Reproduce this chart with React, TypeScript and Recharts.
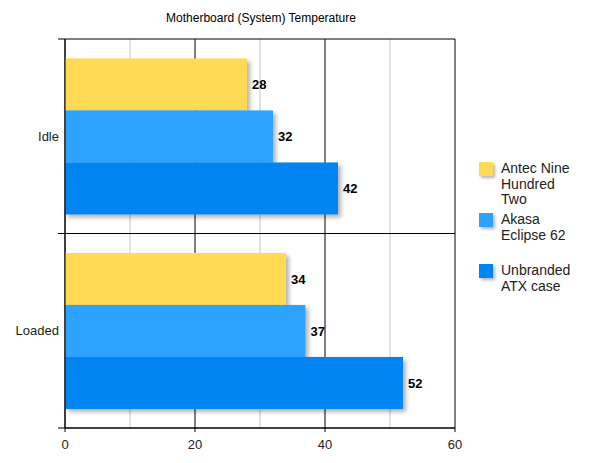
import React from 'react';
import { BarChart, Bar, XAxis, YAxis, CartesianGrid, Legend, LabelList } from 'recharts';

const categories = ['Idle', 'Loaded'];
const antecValues = [28, 34];
const akasaValues = [32, 37];
const unbrandedValues = [42, 52];
const seriesNames = ['Antec Nine Hundred Two', 'Akasa Eclipse 62', 'Unbranded ATX case'];
const seriesColors = ['#FFDA55', '#2DA2FF', '#0084F1'];
const xTicks = [0, 20, 40, 60];
const minorTicks = [10, 30, 50];
const title = 'Motherboard (System) Temperature';

const data = categories.map((c, i) => ({
  cat: c,
  antec: antecValues[i],
  akasa: akasaValues[i],
  unbranded: unbrandedValues[i],
}));

const FONT = '"Liberation Sans", Arial, Helvetica, sans-serif';

const ShadowBar = (props: any) => {
  const { x, y, width, height, fill } = props;
  return (
    <g>
      <defs>
        <filter id="barShadow" x="-20%" y="-20%" width="150%" height="150%">
          <feDropShadow dx="3" dy="3" stdDeviation="2" floodColor="#000" floodOpacity="0.3" />
        </filter>
      </defs>
      <rect x={x} y={y} width={width} height={height} fill={fill} filter="url(#barShadow)" />
    </g>
  );
};

const CategoryTick = (props: any) => {
  const { x, y, payload, index } = props;
  const half = payload && typeof payload.offset === 'number' ? payload.offset : 0;
  return (
    <g>
      <line x1={x - 7} x2={x} y1={y - half} y2={y - half} stroke="#000" />
      {index === categories.length - 1 && (
        <line x1={x - 7} x2={x} y1={y + half} y2={y + half} stroke="#000" />
      )}
      <text x={x - 6} y={y} dy="0.355em" textAnchor="end" fontSize={13} fill="#222" fontFamily={FONT}>
        {payload.value}
      </text>
    </g>
  );
};

const renderLegend = () => {
  return (
    <div style={{ fontFamily: FONT }}>
      {seriesNames.map((name, i) => (
        <div key={i} style={{ display: 'flex', alignItems: 'flex-start', height: 51 }}>
          <div
            style={{
              width: 14,
              height: 14,
              marginTop: 1,
              marginRight: 8,
              background: seriesColors[i],
              boxShadow: '2px 2px 3px rgba(0,0,0,0.3)',
              flex: 'none',
            }}
          />
          <div style={{ width: 76, fontSize: 14, lineHeight: '15.5px', color: '#222' }}>{name}</div>
        </div>
      ))}
    </div>
  );
};

const labelStyle = { fontWeight: 'bold' as const, fontSize: 13, fill: '#000', fontFamily: FONT };

export default function App() {
  return (
    <div style={{ position: 'absolute', left: 0, top: 0, width: 600, height: 463, background: '#fff' }}>
      <div
        style={{
          position: 'absolute',
          left: 66,
          top: 11,
          width: 390,
          textAlign: 'center',
          fontFamily: FONT,
          fontSize: 12,
          lineHeight: '14px',
          color: '#000',
        }}
      >
        {title}
      </div>
      <BarChart
        width={600}
        height={463}
        data={data}
        layout="vertical"
        margin={{ top: 39, right: 145, bottom: 0, left: 0 }}
        barCategoryGap="10%"
        barGap={0}
      >
        <CartesianGrid stroke="#c4c4c4" horizontal={false} verticalValues={minorTicks} />
        <CartesianGrid
          stroke="#000"
          horizontalCoordinatesGenerator={({ offset }: any) => {
            const n = categories.length;
            const pts: number[] = [];
            for (let i = 0; i <= n; i++) pts.push(offset.top + (i * offset.height) / n);
            return pts;
          }}
        />
        <XAxis
          type="number"
          domain={[0, 60]}
          ticks={xTicks}
          height={35}
          tickSize={4}
          tickMargin={8}
          axisLine={{ stroke: '#000' }}
          tickLine={{ stroke: '#000' }}
          tick={{ fill: '#222', fontSize: 13, fontFamily: FONT }}
        />
        <YAxis
          type="category"
          dataKey="cat"
          width={65}
          tickSize={0}
          tickMargin={0}
          tickLine={false}
          axisLine={{ stroke: '#000' }}
          tick={<CategoryTick />}
        />
        <Bar dataKey="antec" name={seriesNames[0]} fill={seriesColors[0]} shape={ShadowBar} isAnimationActive={false}>
          <LabelList dataKey="antec" position="right" offset={5} style={labelStyle} />
        </Bar>
        <Bar dataKey="akasa" name={seriesNames[1]} fill={seriesColors[1]} shape={ShadowBar} isAnimationActive={false}>
          <LabelList dataKey="akasa" position="right" offset={5} style={labelStyle} />
        </Bar>
        <Bar dataKey="unbranded" name={seriesNames[2]} fill={seriesColors[2]} shape={ShadowBar} isAnimationActive={false}>
          <LabelList dataKey="unbranded" position="right" offset={5} style={labelStyle} />
        </Bar>
        <Legend
          layout="vertical"
          align="center"
          verticalAlign="middle"
          content={renderLegend}
          wrapperStyle={{ position: 'absolute', left: 479, top: 161, width: 115, height: 'auto' }}
        />
      </BarChart>
    </div>
  );
}
